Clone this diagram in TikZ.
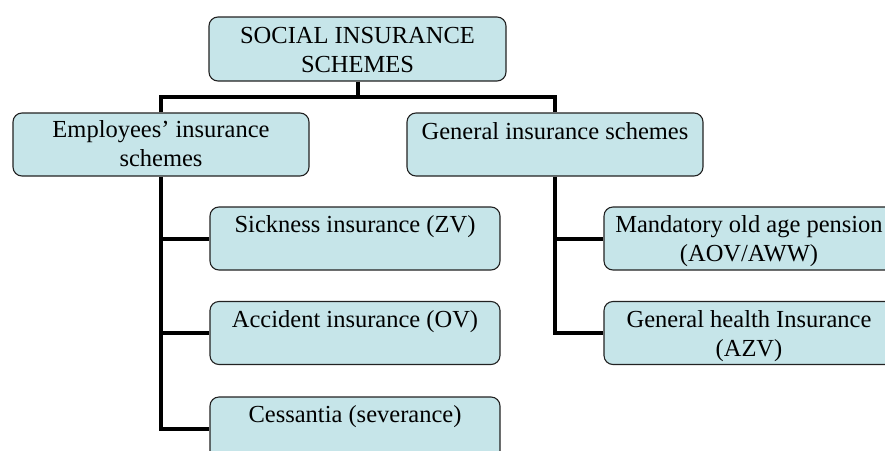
\documentclass[tikz,border=0pt]{standalone}
\usepackage{fontspec}
\setmainfont{Liberation Serif}
\definecolor{boxfill}{HTML}{C6E5E9}
\definecolor{boxline}{HTML}{222222}
\begin{document}
\begin{tikzpicture}[x=1pt,y=-1pt,
  box/.style={draw=boxline, line width=1.1pt, fill=boxfill, rounded corners=9pt,
              inner sep=0pt, minimum height=63pt},
  txt/.style={anchor=north, inner sep=0pt, align=center,
              font=\fontsize{24.5}{29}\selectfont},
  conn/.style={line width=4pt, black}]
\useasboundingbox (0,0) rectangle (885,450);
\clip (0,0) rectangle (885,450);
% boxes
\node[box, minimum width=297pt, minimum height=64pt] (top) at (357.5,49) {};
\node[box, minimum width=296pt] (emp) at (161,144.5) {};
\node[box, minimum width=296pt] (gen) at (555,144.5) {};
\node[box, minimum width=290pt] (sick) at (355,238.5) {};
\node[box, minimum width=290pt] (acc) at (355,333) {};
\node[box, minimum width=290pt] (cess) at (355,428.5) {};
\node[box, minimum width=290pt] (mand) at (749,238.5) {};
\node[box, minimum width=290pt] (health) at (749,333) {};
% texts
\node[txt] (ttop) at ([yshift=-11pt]top.north) {SOCIAL INSURANCE\\SCHEMES};
\node[txt] (temp) at ([yshift=-8pt]emp.north) {Employees’ insurance\\schemes};
\node[txt] (tgen) at ([yshift=-10pt]gen.north) {General insurance schemes};
\node[txt] (tsick) at ([yshift=-9pt]sick.north) {Sickness insurance (ZV)};
\node[txt] (tacc) at ([yshift=-9pt]acc.north) {Accident insurance (OV)};
\node[txt] (tcess) at ([yshift=-9pt]cess.north) {Cessantia (severance)};
\node[txt] (tmand) at ([yshift=-9pt]mand.north) {Mandatory old age pension\\(AOV/AWW)};
\node[txt] (thealth) at ([yshift=-9pt]health.north) {General health Insurance\\(AZV)};
% connectors
\coordinate (bar) at (357.5,97);
\draw[conn] (top.south) -- (bar);
\draw[conn] (emp.north) |- (bar) -| (gen.north);
\draw[conn] (emp.south) |- (cess.west);
\draw[conn] (emp.south |- sick.west) -- (sick.west);
\draw[conn] (emp.south |- acc.west) -- (acc.west);
\draw[conn] (gen.south) |- (health.west);
\draw[conn] (gen.south |- mand.west) -- (mand.west);
\end{tikzpicture}
\end{document}
